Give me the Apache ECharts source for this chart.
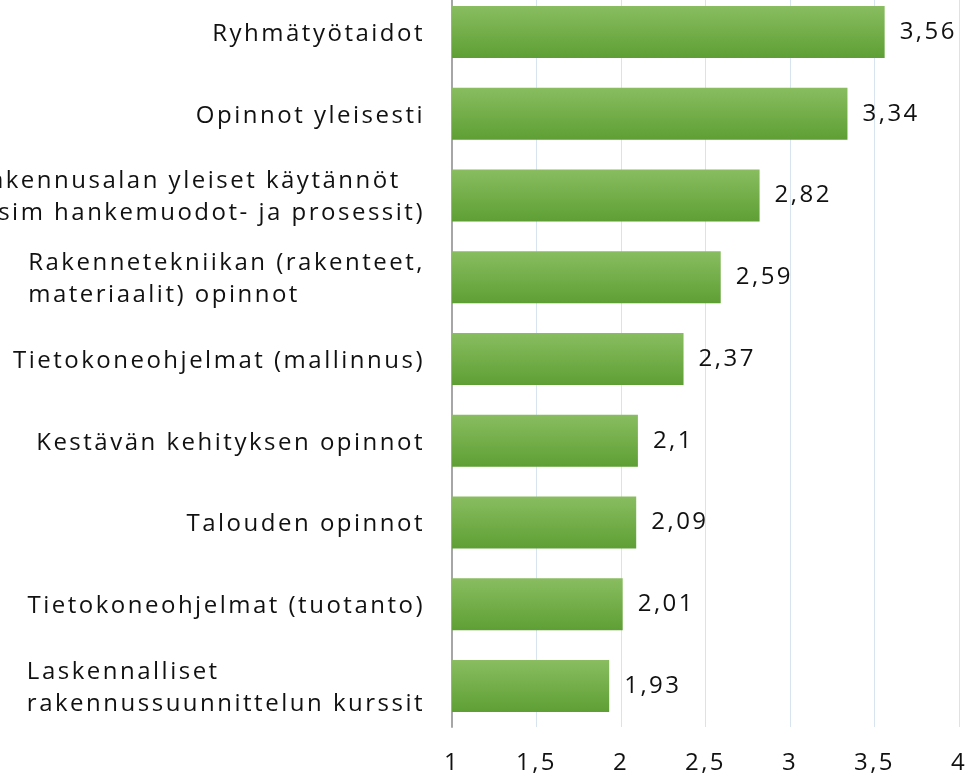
<!DOCTYPE html>
<html>
<head>
<meta charset="utf-8">
<title>Osaamisalueet</title>
<script src="https://cdn.jsdelivr.net/npm/echarts@6/dist/echarts.min.js"></script>
<style>
  html, body { margin: 0; padding: 0; background: #fff; }
  #chart { width: 966px; height: 773px; }
</style>
</head>
<body>
<div id="chart"></div>
<script>
const categories = [
  'Ryhmätyötaidot',
  'Opinnot yleisesti',
  'Rakennusalan yleiset käytännöt\n(esim hankemuodot- ja prosessit)',
  'Rakennetekniikan (rakenteet,\nmateriaalit) opinnot',
  'Tietokoneohjelmat (mallinnus)',
  'Kestävän kehityksen opinnot',
  'Talouden opinnot',
  'Tietokoneohjelmat (tuotanto)',
  'Laskennalliset\nrakennussuunnittelun kurssit'
]
const values = [3.56, 3.34, 2.82, 2.59, 2.37, 2.1, 2.09, 2.01, 1.93]
const axisMin = 1
const axisMax = 4
const axisStep = 0.5

// the original text is tracked out wide; zrender has no letter-spacing option,
// so set it on the canvas context for both measuring and drawing
const TRACKING = '2.5px'
const proto = CanvasRenderingContext2D.prototype
const origFillText = proto.fillText
const origMeasureText = proto.measureText
proto.fillText = function (...args) {
  this.letterSpacing = TRACKING
  return origFillText.apply(this, args)
}
proto.measureText = function (...args) {
  this.letterSpacing = TRACKING
  return origMeasureText.apply(this, args)
}

const FONT = '"Open Sans", "Noto Sans", sans-serif'
const TEXT_COLOR = '#111'
const comma = v => String(v).replace('.', ',')

const chart = echarts.init(document.getElementById('chart'))

chart.setOption({
  animation: false,
  textStyle: { fontFamily: FONT },
  // labels run off the left edge in the original, so don't let the grid shrink to fit them
  grid: { left: 452, right: 7, top: -9, bottom: 46, containLabel: false, outerBoundsMode: 'none' },
  xAxis: {
    type: 'value',
    min: axisMin,
    max: axisMax,
    interval: axisStep,
    axisLine: { show: false },
    axisTick: { show: false },
    axisLabel: {
      fontSize: 24,
      fontFamily: FONT,
      color: TEXT_COLOR,
      margin: 23,
      formatter: v => comma(v)
    },
    splitLine: { show: true, lineStyle: { color: '#d8e3f0', width: 1 } }
  },
  yAxis: {
    type: 'category',
    inverse: true,
    data: categories,
    axisLine: { show: true, lineStyle: { color: '#a6a6a6', width: 2 } },
    axisTick: { show: false },
    axisLabel: {
      interval: 0,
      fontSize: 24,
      fontFamily: FONT,
      color: TEXT_COLOR,
      margin: 27,
      lineHeight: 32,
      padding: [4, 0, 0, 0],
      formatter: name => {
        if (name.indexOf('\n') < 0) return name
        // wrapped labels: lines start flush left inside the block
        return name.split('\n').map(line => '{l|' + line + '}').join('\n')
      },
      rich: {
        l: { align: 'left', fontSize: 24, fontFamily: FONT, color: TEXT_COLOR, lineHeight: 32 }
      }
    }
  },
  series: [
    {
      type: 'bar',
      data: values,
      barWidth: 52,
      itemStyle: {
        color: new echarts.graphic.LinearGradient(0, 0, 0, 1, [
          { offset: 0, color: '#89bd60' },
          { offset: 1, color: '#5e9f34' }
        ])
      },
      label: {
        show: true,
        position: 'right',
        distance: 15,
        fontSize: 24,
        fontFamily: FONT,
        color: TEXT_COLOR,
        padding: [5, 0, 0, 0],
        formatter: p => comma(p.value)
      }
    }
  ]
})
</script>
</body>
</html>
